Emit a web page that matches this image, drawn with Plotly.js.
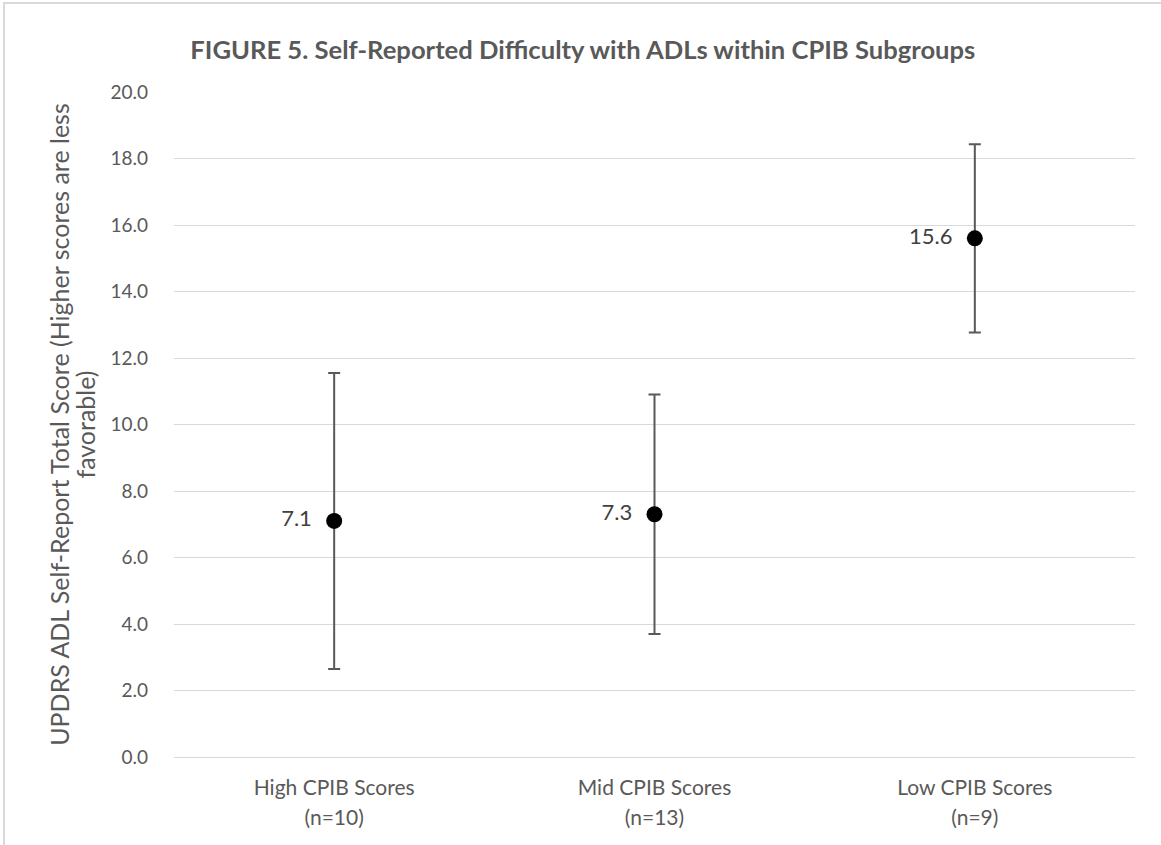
<!DOCTYPE html>
<html>
<head>
<meta charset="utf-8">
<script src="https://cdn.plot.ly/plotly-3.0.1.min.js"></script>
<style>
  html, body { margin: 0; padding: 0; background: #ffffff; overflow: hidden; }
  #wrap { position: relative; width: 1161px; height: 845px; }
  #frame { position: absolute; left: 3px; top: 2px; width: 1170px; height: 860px;
           border-left: 2px solid #d9d9d9; border-top: 2px solid #d9d9d9; pointer-events: none; }
  #chart { position: absolute; left: 0; top: 0; width: 1161px; height: 845px; }
</style>
</head>
<body>
<div id="wrap">
  <div id="chart"></div>
  <div id="frame"></div>
</div>
<script>
// Data
const categories = ["High CPIB Scores", "Mid CPIB Scores", "Low CPIB Scores"];
const groupSizes = ["(n=10)", "(n=13)", "(n=9)"];
const means = [7.1, 7.3, 15.6];
const errors = [4.45, 3.6, 2.83];
const labels = ["7.1", "7.3", "15.6"];
const yTicks = [0, 2, 4, 6, 8, 10, 12, 14, 16, 18, 20];
const yTickText = yTicks.map(v => v.toFixed(1));
const yTitleLines = ["UPDRS ADL Self-Report Total Score (Higher scores are less", "favorable)"];

const FONT = "Lato, 'Open Sans', sans-serif";
const sz = (s, px) => "<span style='font-size:" + px + "px'>" + s + "</span>";
const xTickText = categories.map((c, i) => sz(c, 21) + "<br>" + sz(groupSizes[i], 21));

const trace = {
  type: "scatter",
  mode: "markers+text",
  x: categories,
  y: means,
  text: labels,
  texttemplate: "%{text}\u00a0\u00a0",
  textposition: "middle left",
  textfont: { family: FONT, size: 22, color: "#404040" },
  marker: { color: "#000000", size: 16 },
  error_y: { type: "data", array: errors, visible: true, color: "#595959", thickness: 2, width: 6 },
  hoverinfo: "skip",
  cliponaxis: false
};

const layout = {
  width: 1161,
  height: 845,
  margin: { l: 174, r: 26, t: 92, b: 88 },
  paper_bgcolor: "#ffffff",
  plot_bgcolor: "#ffffff",
  showlegend: false,
  font: { family: FONT, color: "#595959", size: 16 },
  title: {
    text: "<b>FIGURE 5. Self-Reported Difficulty with ADLs within CPIB Subgroups</b>",
    font: { family: FONT, size: 25.6, color: "#595959" },
    x: 0.502, xanchor: "center", y: 0.941, yanchor: "middle"
  },
  xaxis: {
    type: "category",
    range: [-0.5, 2.5],
    tickvals: categories,
    ticktext: xTickText,
    showgrid: false,
    zeroline: false,
    showline: false,
    ticks: "",
    ticklabelstandoff: 14,
    tickfont: { family: FONT, size: 23, color: "#595959" }
  },
  yaxis: {
    range: [0, 20],
    tickvals: yTicks,
    ticktext: yTickText,
    showgrid: true,
    gridcolor: "#d9d9d9",
    gridwidth: 1,
    zeroline: true,
    zerolinecolor: "#d9d9d9",
    zerolinewidth: 1,
    showline: false,
    ticks: "",
    ticklabelstandoff: 25,
    tickfont: { family: FONT, size: 19, color: "#595959" },
    title: {
      text: yTitleLines.map(l => sz(l, 25)).join("<br>"),
      font: { family: FONT, size: 20, color: "#595959" },
      standoff: 9
    },
    automargin: false
  }
};

Plotly.newPlot("chart", [trace], layout, { staticPlot: true, displayModeBar: false });
</script>
</body>
</html>
